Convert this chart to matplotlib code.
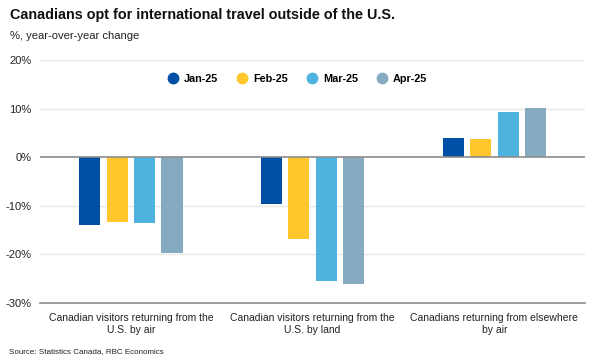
import matplotlib
matplotlib.use("Agg")
import matplotlib.pyplot as plt
import numpy as np
from matplotlib.lines import Line2D

plt.rcParams['font.family'] = ['Liberation Sans', 'DejaVu Sans']

categories = ["Canadian visitors returning from the\nU.S. by air",
              "Canadian visitors returning from the\nU.S. by land",
              "Canadians returning from elsewhere\nby air"]
series_names = ["Jan-25", "Feb-25", "Mar-25", "Apr-25"]
jan = [-14.0, -9.7, 4.0]
feb = [-13.3, -16.8, 3.7]
mar = [-13.5, -25.5, 9.3]
apr = [-19.7, -26.2, 10.1]
colors = ["#0051A5", "#FFC72C", "#4FB3E0", "#86AAC0"]
yticks = [-30, -20, -10, 0, 10, 20]

fig = plt.figure(figsize=(5.96, 3.64), dpi=100)
ax = fig.add_axes([0.067, 0.168, 0.915, 0.667])

x = np.arange(len(categories))
step = 0.151
width = 0.116
for i, (vals, c) in enumerate(zip([jan, feb, mar, apr], colors)):
    ax.bar(x + (i - 1.5) * step, vals, width, color=c, zorder=3)

ax.set_xlim(-0.5, 2.5)
ax.set_ylim(-30, 20)
ax.set_yticks(yticks)
ax.set_yticklabels([f"{v}%" for v in yticks], fontsize=8, color="#222222")
for v in yticks:
    if v in (10, 20, -10, -20):
        ax.axhline(v, color="#e6e6e6", lw=0.9, zorder=1)
ax.axhline(0, color="#8c8c8c", lw=1.2, zorder=4)
ax.axhline(-30, color="#8c8c8c", lw=1.2, zorder=4, clip_on=False)
for s in ax.spines.values():
    s.set_visible(False)
ax.tick_params(axis='y', length=0, pad=6)
ax.tick_params(axis='x', length=0, pad=7)
ax.set_xticks(x)
ax.set_xticklabels(categories, fontsize=7.5, color="#222222", linespacing=1.35)

handles = [Line2D([0], [0], marker='o', color='none', markerfacecolor=c,
                  markeredgecolor=c, markersize=7.5) for c in colors]
leg = ax.legend(handles, series_names, loc='center', bbox_to_anchor=(0.472, 0.922),
                ncol=4, frameon=False, handlelength=1.0, handletextpad=0.5,
                columnspacing=1.75, prop={'weight': 'bold', 'size': 7.8})

fig.text(0.017, 0.958, "Canadians opt for international travel outside of the U.S.",
         fontsize=10.4, fontweight='bold', va='center', ha='left', color="#111111")
fig.text(0.017, 0.902, "%, year-over-year change", fontsize=8.1, va='center', ha='left',
         color="#222222")
fig.text(0.015, 0.033, "Source: Statistics Canada, RBC Economics", fontsize=5.8,
         va='center', ha='left', color="#222222")

fig.savefig("out.png", dpi=100)
